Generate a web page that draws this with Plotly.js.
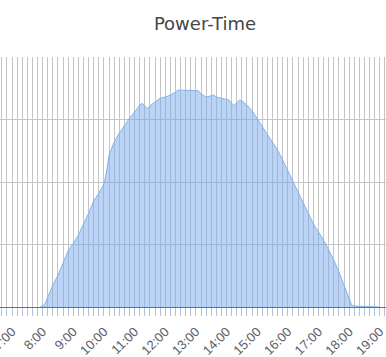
<!DOCTYPE html>
<html>
<head>
<meta charset="utf-8">
<script src="https://cdn.plot.ly/plotly-3.0.1.min.js"></script>
<style>
html,body{margin:0;padding:0;background:#fff;width:386px;height:357px;overflow:hidden;position:relative;}
#chart{position:absolute;left:-40px;top:0;width:480px;height:357px;}
</style>
</head>
<body>
<div id="chart"></div>
<script>
const times = ["07:55","08:00","08:05","08:10","08:15","08:20","08:30","08:40","08:50",
"09:00","09:10","09:20","09:30","09:40","09:50",
"10:00","10:05","10:10","10:20","10:30","10:40","10:50",
"11:00","11:10","11:15","11:20","11:25","11:30","11:40","11:50",
"12:00","12:10","12:20","12:25","12:30","12:40","12:50",
"13:00","13:05","13:10","13:15","13:20","13:30","13:35","13:40","13:50",
"14:00","14:05","14:10","14:15","14:20","14:25","14:30","14:40","14:50",
"15:00","15:10","15:20","15:30","15:40","15:50",
"16:00","16:10","16:20","16:30","16:40","16:50",
"17:00","17:10","17:20","17:30","17:40","17:50",
"18:00","18:05","18:10","18:30","18:50","19:00"];
const power = [0,0.01,0.06,0.16,0.26,0.35,0.51,0.72,0.90,
1.02,1.15,1.33,1.50,1.70,1.82,
1.97,2.16,2.43,2.64,2.78,2.91,3.02,
3.12,3.23,3.26,3.22,3.17,3.22,3.28,3.34,
3.36,3.39,3.44,3.47,3.47,3.47,3.46,
3.46,3.46,3.41,3.38,3.36,3.38,3.39,3.36,3.34,
3.33,3.31,3.26,3.22,3.27,3.31,3.30,3.23,3.14,
3.01,2.88,2.77,2.64,2.51,2.35,
2.18,2.00,1.84,1.68,1.50,1.33,
1.20,1.07,0.91,0.75,0.56,0.34,
0.13,0.03,0.015,0.01,0.01,0];
const hourTicks = ["07:00","08:00","09:00","10:00","11:00","12:00","13:00","14:00","15:00","16:00","17:00","18:00","19:00","20:00"];
const day = "2024-01-01 ";
const xs = times.map(t => day + t);

const trace = {
  x: xs, y: power, type: 'scatter', mode: 'lines',
  fill: 'tozeroy', fillcolor: 'rgba(120,170,235,0.5)',
  line: {color: 'rgb(130,180,235)', width: 1},
  hoverinfo: 'skip'
};
const layout = {
  width: 480, height: 357,
  margin: {l: 0, r: 0, t: 57, b: 50},
  paper_bgcolor: '#fff', plot_bgcolor: 'rgba(0,0,0,0)',
  showlegend: false,
  title: {text: 'Power-Time', font: {family: 'DejaVu Sans', size: 18, color: '#464646'},
    xref: 'paper', x: 0.5104, xanchor: 'center', yref: 'container', y: 0.935, yanchor: 'middle'},
  xaxis: {
    type: 'date',
    range: [day + '05:18:12', day + '20:57:50'],
    tickvals: hourTicks.map(h => day + h),
    ticktext: hourTicks.map(h => h.replace(/^0/, '')),
    tickangle: -45,
    ticklabeloverflow: 'allow',
    ticklabelstandoff: 3,
    tickfont: {family: 'Liberation Sans', size: 13, color: '#5a5e6a'},
    ticks: 'outside', ticklen: 8, tickcolor: '#b0c2dc', tickwidth: 1,
    showgrid: true, gridcolor: '#c4c4c4', gridwidth: 1,
    showline: true, linecolor: '#6E7079', linewidth: 1,
    zeroline: false,
    minor: {dtick: 600000, tick0: day + '07:00', ticks: 'outside', ticklen: 8, tickcolor: '#b0c2dc', tickwidth: 1,
      showgrid: true, gridcolor: '#c4c4c4', gridwidth: 1}
  },
  yaxis: {
    range: [0, 4], dtick: 1, tick0: 0,
    showticklabels: false, ticks: '',
    showgrid: true, gridcolor: '#c4c4c4', gridwidth: 1,
    zeroline: false, showline: false
  }
};
Plotly.newPlot('chart', [trace], layout, {displayModeBar: false, staticPlot: true});
</script>
</body>
</html>
